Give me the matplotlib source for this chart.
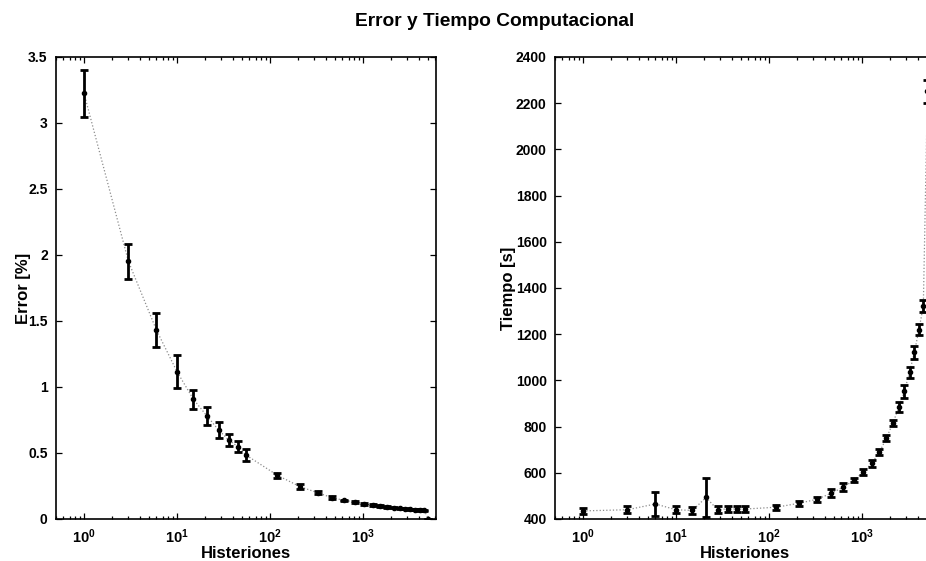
import math
import matplotlib
matplotlib.use("Agg")
import matplotlib.pyplot as plt
from matplotlib.ticker import LogLocator, FixedLocator, NullFormatter, FuncFormatter

plt.rcParams['font.family'] = ['Liberation Sans', 'DejaVu Sans']
plt.rcParams['font.weight'] = 'bold'
plt.rcParams['mathtext.fontset'] = 'custom'
plt.rcParams['mathtext.rm'] = 'Liberation Sans:bold'
plt.rcParams['mathtext.bf'] = 'Liberation Sans:bold'
plt.rcParams['mathtext.it'] = 'Liberation Sans:bold'

# number of histerions per run
histeriones = [1, 3, 6, 10, 15, 21, 28, 36, 45, 55, 120, 210, 325, 465, 630, 820,
               1035, 1275, 1540, 1830, 2145, 2485, 2850, 3240, 3655, 4095, 4560, 5050]

# relative error [%] (mean and std)
error_medio = [3.225, 1.952, 1.432, 1.116, 0.907, 0.780, 0.674, 0.598, 0.548, 0.485,
               0.331, 0.245, 0.199, 0.161, 0.141, 0.129, 0.114, 0.106, 0.098, 0.091,
               0.086, 0.081, 0.077, 0.074, 0.071, 0.068, 0.065, 0.0]
error_std = [0.178, 0.134, 0.129, 0.124, 0.070, 0.066, 0.064, 0.044, 0.043, 0.047,
             0.018, 0.020, 0.012, 0.010, 0.006, 0.005, 0.005, 0.005, 0.005, 0.005,
             0.004, 0.004, 0.004, 0.004, 0.004, 0.004, 0.004, 0.0]

# computation time [s] (mean and std)
tiempo_medio = [435, 440, 465, 440, 437, 493, 440, 444, 443, 443, 451, 468, 485, 511,
                538, 568, 604, 641, 690, 750, 815, 883, 952, 1035, 1121, 1220, 1322, 2252]
tiempo_std = [14, 15, 51, 15, 14, 83, 15, 12, 12, 12, 10, 12, 12, 17, 18, 10, 14, 14,
              15, 14, 12, 22, 29, 24, 27, 25, 25, 49]


def pow10(x, pos):
    return r'$\mathbf{10^{%d}}$' % round(math.log10(x))


def estilo(ax):
    ax.set_xscale('log')
    ax.set_xlim(0.5, 6100)
    ax.xaxis.set_major_locator(FixedLocator([1, 10, 100, 1000]))
    ax.xaxis.set_major_formatter(FuncFormatter(pow10))
    ax.xaxis.set_minor_locator(LogLocator(base=10, subs=range(2, 10), numticks=20))
    ax.xaxis.set_minor_formatter(NullFormatter())
    ax.tick_params(which='both', direction='in', top=True, right=True,
                   labelsize=10, width=0.9, pad=6)
    ax.tick_params(which='major', length=4)
    ax.tick_params(which='minor', length=2.2)
    ax.tick_params(axis='x', labelsize=10.5)
    for s in ax.spines.values():
        s.set_linewidth(1.2)
    ax.set_xlabel('Histeriones', fontsize=12, fontweight='bold', labelpad=0)


def dibujar(ax, y, e):
    ax.plot(histeriones, y, ':', color='0.55', lw=0.9, zorder=1)
    ax.errorbar(histeriones, y, yerr=e, fmt='.', color='black', ms=6,
                ecolor='black', elinewidth=2.0, capsize=3.0, capthick=2.0, zorder=2)


fig = plt.figure(figsize=(9.26, 5.61), dpi=100)

ax1 = fig.add_axes([0.0605, 0.0749, 0.4104, 0.8235])
dibujar(ax1, error_medio, error_std)
estilo(ax1)
ax1.set_ylim(0, 3.5)
ax1.set_yticks([0, 0.5, 1, 1.5, 2, 2.5, 3, 3.5])
ax1.set_yticklabels(['0', '0.5', '1', '1.5', '2', '2.5', '3', '3.5'])
ax1.set_ylabel('Error [%]', fontsize=12, fontweight='bold', labelpad=-2)

ax2 = fig.add_axes([0.5994, 0.0749, 0.4104, 0.8235])
dibujar(ax2, tiempo_medio, tiempo_std)
estilo(ax2)
ax2.set_ylim(400, 2400)
ax2.set_yticks(range(400, 2401, 200))
ax2.set_ylabel('Tiempo [s]', fontsize=12, fontweight='bold', labelpad=0)

fig.text(495 / 926, 1 - 21 / 561, 'Error y Tiempo Computacional', ha='center',
         va='center', fontsize=13.8, fontweight='bold')

fig.savefig('out.png', dpi=100)
